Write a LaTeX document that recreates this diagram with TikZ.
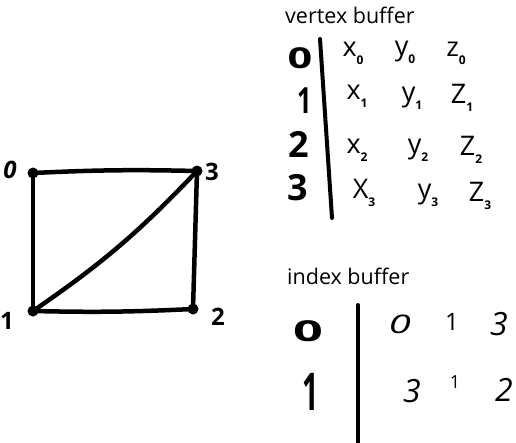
\documentclass[tikz,border=0pt]{standalone}
\usepackage{fontspec}
\setmainfont{Open Sans}
\newcommand{\sbs}[1]{\raisebox{-0.55ex}{\fontsize{12}{12}\selectfont\bfseries #1}}
\begin{document}
\begin{tikzpicture}[x=1pt,y=-1pt,
  edge/.style={line width=4.5pt,line cap=round,line join=round},
  vdot/.style={circle,fill=black,inner sep=0pt,minimum size=11pt},
  big/.style={font=\fontsize{36}{36}\selectfont\bfseries,inner sep=0pt},
  lbl/.style={font=\fontsize{24}{24}\selectfont\bfseries,inner sep=0pt},
  ttl/.style={font=\fontsize{21.5}{21.5}\selectfont,anchor=west,inner sep=0pt},
  ent/.style={font=\fontsize{27}{27}\selectfont,inner sep=0pt},
  ient/.style={font=\fontsize{32}{32}\selectfont\itshape,inner sep=0pt},
  ione/.style={font=\fontsize{24}{24}\selectfont,inner sep=0pt},
  bar/.style={line width=4pt,line cap=round}]
\useasboundingbox[fill=white] (0,0) rectangle (516,442);
% mesh
\node[vdot] (v0) at (33,173) {};
\node[vdot] (v3) at (197,171) {};
\node[vdot] (v1) at (33,311) {};
\node[vdot] (v2) at (193,309) {};
\draw[edge] (v0.center) to[bend left=2] (v3.center);
\draw[edge] (v3.center) -- (v2.center);
\draw[edge] (v2.center) to[bend left=2] (v1.center);
\draw[edge] (v1.center) -- (v0.center);
\draw[edge] (v1.center) to[bend right=6] (v3.center);
\node[lbl] (l0) at (10,170) {\itshape 0};
\node[lbl] (l3) at (212,172) {3};
\node[lbl] (l1) at (7,321) {1};
\node[lbl] (l2) at (218,317) {2};
% vertex buffer
\node[ttl] (vt) at (285,15) {vertex buffer};
\coordinate (vbtop) at (320,39);
\coordinate (vbbot) at (332,218);
\draw[bar] (vbtop) -- (vbbot);
\node[big] (r0) at (300,58) {\scalebox{1.2}[0.8]{0}};
\node[big] (r1) at (305,101) {\scalebox{0.7}[1]{1}};
\node[big] (r2) at (299,144) {2};
\node[big] (r3) at (298,188) {3};
\node[ent] (x0) at (353,53) {x\sbs{0}};
\node[ent] (y0) at (405,52) {y\sbs{0}};
\node[ent] (z0) at (456,53) {z\sbs{0}};
\node[ent] (x1) at (357,96) {x\sbs{1}};
\node[ent] (y1) at (412,98) {y\sbs{1}};
\node[ent] (z1) at (462,98) {Z\sbs{1}};
\node[ent] (x2) at (357,150) {x\sbs{2}};
\node[ent] (y2) at (418,150) {y\sbs{2}};
\node[ent] (z2) at (471,150) {Z\sbs{2}};
\node[ent] (x3) at (364,193) {X\sbs{3}};
\node[ent] (y3) at (428,195) {y\sbs{3}};
\node[ent] (z3) at (480,196) {Z\sbs{3}};
% index buffer
\node[ttl] (it) at (287,276) {index buffer};
\coordinate (ibtop) at (358,305);
\coordinate (ibbot) at (358,444);
\draw[bar] (ibtop) -- (ibbot);
\node[font=\fontsize{36}{36}\selectfont\bfseries,inner sep=0pt] (i0) at (308,331) {\scalebox{1.45}[0.8]{0}};
\node[font=\fontsize{52}{52}\selectfont\bfseries,inner sep=0pt] (i1) at (311,392) {\scalebox{0.55}[1]{1}};
\node[ient] (a0) at (400,324) {\scalebox{1.25}[0.8]{0}};
\node[ione] (a1) at (452,322) {1};
\node[ient] (a2) at (499,324) {3};
\node[ient] (b0) at (412,391) {3};
\node[ione,font=\fontsize{18}{18}\selectfont] (b1) at (455,382) {1};
\node[ient] (b2) at (504,390) {2};
\end{tikzpicture}
\end{document}
